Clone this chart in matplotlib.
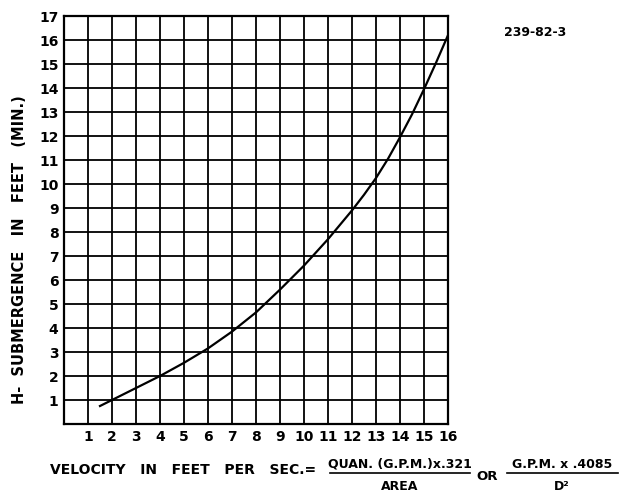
import matplotlib
matplotlib.use("Agg")
import matplotlib.pyplot as plt
from matplotlib.lines import Line2D

velocity = [1.5, 2, 3, 4, 5, 6, 7, 8, 9, 10, 11, 12, 12.5, 13, 13.5,
            14, 14.5, 15, 15.5, 16]
submergence = [0.75, 1.0, 1.5, 2.0, 2.55, 3.15, 3.85, 4.65, 5.6, 6.6,
               7.7, 8.9, 9.55, 10.25, 11.05, 11.95, 12.9, 13.95, 15.05, 16.2]
x_ticks = list(range(1, 17))
y_ticks = list(range(1, 18))

W, H = 623, 495
fig = plt.figure(figsize=(W / 100, H / 100), dpi=100)
ax = fig.add_axes([64 / W, (H - 424) / H, 384 / W, 408 / H])
ax.set_xlim(0, 16)
ax.set_ylim(0, 17)

for xv in range(0, 17):
    ax.axvline(xv, color="black", lw=1.3, zorder=1)
for yv in range(0, 18):
    ax.axhline(yv, color="black", lw=1.3, zorder=1)

ax.plot(velocity, submergence, color="black", lw=1.6, zorder=3)

for s in ax.spines.values():
    s.set_linewidth(1.6)
ax.set_xticks(x_ticks)
ax.set_yticks(y_ticks)
ax.set_xticklabels([str(v) for v in x_ticks], fontsize=10, fontweight="bold")
ax.set_yticklabels([str(v) for v in y_ticks], fontsize=10, fontweight="bold")
ax.tick_params(length=0, pad=4)

def fx(px):
    return px / W

def fy(py):
    return 1 - py / H

fig.text(fx(20), fy(250), "H-  SUBMERGENCE   IN   FEET   (MIN.)", rotation=90,
         ha="center", va="center", fontsize=10.5, fontweight="bold")
fig.text(fx(535), fy(33), "239-82-3", ha="center", va="center",
         fontsize=9, fontweight="bold")
fig.text(fx(50), fy(470), "VELOCITY   IN   FEET   PER   SEC.=", ha="left", va="center",
         fontsize=10, fontweight="bold")
fig.text(fx(400), fy(464), "QUAN. (G.P.M.)x.321", ha="center", va="center",
         fontsize=9, fontweight="bold")
fig.text(fx(400), fy(486), "AREA", ha="center", va="center",
         fontsize=9, fontweight="bold")
fig.add_artist(Line2D([fx(330), fx(470)], [fy(473), fy(473)], color="black", lw=1.2))
fig.text(fx(487), fy(476), "OR", ha="center", va="center",
         fontsize=9.5, fontweight="bold")
fig.text(fx(562), fy(464), "G.P.M. x .4085", ha="center", va="center",
         fontsize=9, fontweight="bold")
fig.text(fx(562), fy(486), "D²", ha="center", va="center",
         fontsize=9, fontweight="bold")
fig.add_artist(Line2D([fx(507), fx(618)], [fy(473), fy(473)], color="black", lw=1.2))

fig.savefig("out.png", dpi=100)
